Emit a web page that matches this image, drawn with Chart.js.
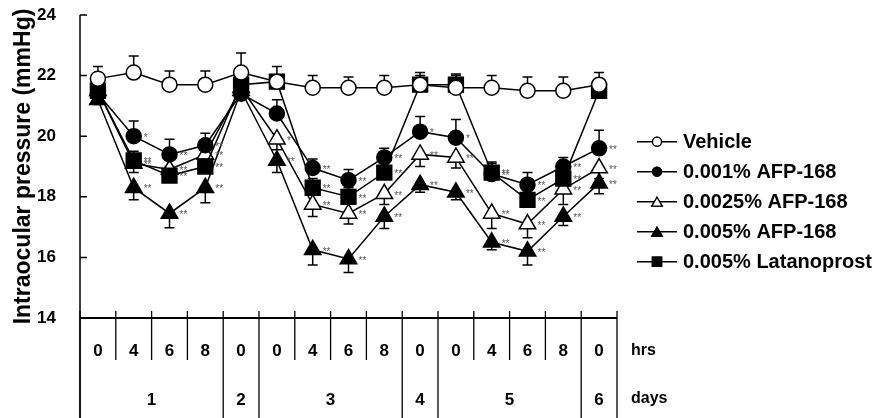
<!DOCTYPE html>
<html>
<head>
<meta charset="utf-8">
<script src="https://cdn.jsdelivr.net/npm/chart.js@4.4.1/dist/chart.umd.min.js"></script>
<style>
  html, body { margin: 0; padding: 0; background: #fff; }
  canvas { display: block; }
</style>
</head>
<body>
<canvas id="iop" width="880" height="418"></canvas>
<script>
// Sampling times (hours after dosing) and the study day each one belongs to
const hours = ['0', '4', '6', '8', '0', '0', '4', '6', '8', '0', '0', '4', '6', '8', '0'];
const studyDay = [1, 1, 1, 1, 2, 3, 3, 3, 3, 4, 5, 5, 5, 5, 6];
const yTicks = [14, 16, 18, 20, 22, 24];

// Mean IOP (mmHg), SEM and significance marks per treatment group
const vehicle = [21.9, 22.1, 21.7, 21.7, 22.1, 21.8, 21.6, 21.6, 21.6, 21.7, 21.6, 21.6, 21.5, 21.5, 21.7];
const vehicleErr = [0.4, 0.55, 0.45, 0.45, 0.65, 0.5, 0.4, 0.35, 0.4, 0.4, 0.45, 0.4, 0.45, 0.45, 0.4];
const vehicleSig = ['', '', '', '', '', '', '', '', '', '', '', '', '', '', ''];

const afp001 = [21.4, 20.0, 19.4, 19.7, 21.4, 20.75, 18.95, 18.55, 19.3, 20.15, 19.95, 18.75, 18.4, 19.0, 19.6];
const afp001Err = [0.3, 0.5, 0.5, 0.4, 0.3, 0.45, 0.3, 0.35, 0.3, 0.5, 0.6, 0.35, 0.4, 0.3, 0.6];
const afp001Sig = ['', '*', '**', '**', '', '', '**', '**', '**', '*', '*', '**', '**', '**', '**'];

const afp0025 = [21.5, 19.1, 18.9, 19.4, 21.6, 19.9, 17.75, 17.45, 18.1, 19.4, 19.3, 17.45, 17.1, 18.25, 18.95];
const afp0025Err = [0.2, 0.3, 0.3, 0.3, 0.2, 0.35, 0.4, 0.35, 0.35, 0.4, 0.35, 0.5, 0.45, 0.5, 0.35];
const afp0025Sig = ['', '**', '**', '**', '', '*', '**', '**', '**', '**', '**', '**', '**', '**', '**'];

const afp005 = [21.2, 18.3, 17.45, 18.3, 21.5, 19.2, 16.25, 15.95, 17.35, 18.4, 18.15, 16.5, 16.2, 17.35, 18.45];
const afp005Err = [0.15, 0.4, 0.47, 0.5, 0.2, 0.4, 0.5, 0.45, 0.4, 0.25, 0.25, 0.25, 0.45, 0.3, 0.35];
const afp005Sig = ['', '**', '**', '**', '', '**', '**', '**', '**', '**', '**', '**', '**', '**', '**'];

const latano = [21.5, 19.2, 18.7, 19.0, 21.7, 21.8, 18.3, 18.0, 18.8, 21.7, 21.7, 18.8, 17.9, 18.6, 21.5];
const latanoErr = [0.2, 0.3, 0.3, 0.3, 0.2, 0.2, 0.3, 0.3, 0.3, 0.3, 0.3, 0.35, 0.3, 0.35, 0.3];
const latanoSig = ['', '**', '**', '**', '', '', '**', '**', '**', '', '', '**', '**', '**', ''];

const FONT = "'Liberation Sans', Arial, Helvetica, sans-serif";

function series(label, data, err, dir, sig, style, radius, fill, order) {
  return {
    label, data, err, errDir: dir, sig, order,
    borderColor: '#000', borderWidth: 1.5,
    pointStyle: style, pointRadius: radius,
    pointBackgroundColor: fill, pointBorderColor: '#000', pointBorderWidth: 1.5,
    tension: 0, fill: false
  };
}

const datasets = [
  series('Vehicle', vehicle, vehicleErr, 1, vehicleSig, 'circle', 7.5, '#fff', 0),
  series('0.001% AFP-168', afp001, afp001Err, 1, afp001Sig, 'circle', 7.5, '#000', 1),
  series('0.0025% AFP-168', afp0025, afp0025Err, -1, afp0025Sig, 'triangle', 9.5, '#fff', 3),
  series('0.005% AFP-168', afp005, afp005Err, -1, afp005Sig, 'triangle', 9.5, '#000', 4),
  series('0.005% Latanoprost', latano, latanoErr, 1, latanoSig, 'rect', 10.5, '#000', 2)
];

const legendRadius = { circle: 4.5, triangle: 6, rect: 6.5 };

// SEM whiskers with caps, drawn underneath the markers
const errorBars = {
  id: 'errorBars',
  beforeDatasetsDraw(chart) {
    const { ctx, scales: { x, y } } = chart;
    ctx.save();
    ctx.strokeStyle = '#000';
    ctx.lineWidth = 1.5;
    chart.data.datasets.forEach(ds => {
      ds.data.forEach((v, i) => {
        const px = x.getPixelForValue(i);
        const y0 = y.getPixelForValue(v);
        const y1 = y.getPixelForValue(v + ds.errDir * ds.err[i]);
        ctx.beginPath();
        ctx.moveTo(px, y0);
        ctx.lineTo(px, y1);
        ctx.moveTo(px - 5, y1);
        ctx.lineTo(px + 5, y1);
        ctx.stroke();
      });
    });
    ctx.restore();
  }
};

// Significance asterisks to the right of each marker
const sigMarks = {
  id: 'sigMarks',
  afterDatasetsDraw(chart) {
    const { ctx, scales: { x, y } } = chart;
    ctx.save();
    ctx.fillStyle = '#555';
    ctx.font = "10px " + FONT;
    ctx.textAlign = 'left';
    ctx.textBaseline = 'middle';
    chart.data.datasets.forEach(ds => {
      ds.sig.forEach((s, i) => {
        if (!s) return;
        ctx.fillText(s, x.getPixelForValue(i) + 10, y.getPixelForValue(ds.data[i]) + 2);
      });
    });
    ctx.restore();
  }
};

// Axes frame, inward ticks, the hour/day table under the x axis and the legend
const frame = {
  id: 'frame',
  afterDraw(chart) {
    const { ctx, chartArea: a, scales: { x, y } } = chart;
    const H = chart.height;
    ctx.save();
    ctx.strokeStyle = '#000';
    ctx.fillStyle = '#000';

    // y axis line and inward ticks
    ctx.lineWidth = 1.5;
    ctx.beginPath();
    ctx.moveTo(a.left, y.getPixelForValue(24));
    ctx.lineTo(a.left, H);
    yTicks.forEach(v => {
      const py = y.getPixelForValue(v);
      ctx.moveTo(a.left, py);
      ctx.lineTo(a.left + 7, py);
    });
    ctx.stroke();

    // x axis line
    ctx.lineWidth = 2.2;
    ctx.beginPath();
    ctx.moveTo(a.left, a.bottom);
    ctx.lineTo(a.right, a.bottom);
    ctx.stroke();

    // category dividers
    const n = hours.length;
    const bounds = [];
    for (let k = 0; k <= n; k++) {
      let px;
      if (k === 0) px = a.left;
      else if (k === n) px = a.right;
      else px = (x.getPixelForValue(k - 1) + x.getPixelForValue(k)) / 2;
      bounds.push(px);
    }
    ctx.lineWidth = 1.3;
    ctx.beginPath();
    bounds.forEach((px, k) => {
      const dayEdge = k === 0 || k === n || studyDay[k] !== studyDay[k - 1];
      ctx.moveTo(px, a.bottom - 7);
      ctx.lineTo(px, dayEdge ? H : a.bottom + 42);
    });
    ctx.stroke();

    // day numbers centred in their spans
    ctx.font = "bold 17px " + FONT;
    ctx.textAlign = 'center';
    ctx.textBaseline = 'middle';
    let start = 0;
    for (let k = 1; k <= n; k++) {
      if (k === n || studyDay[k] !== studyDay[start]) {
        ctx.fillText(String(studyDay[start]), (bounds[start] + bounds[k]) / 2, 400);
        start = k;
      }
    }

    // row captions
    ctx.textAlign = 'left';
    ctx.font = "bold 16px " + FONT;
    ctx.fillText('hrs', a.right + 14, 351);
    ctx.fillText('days', a.right + 14, 399);

    // legend
    const lx = 637, ly0 = 141.7, step = 30;
    chart.data.datasets.forEach((ds, i) => {
      const ly = ly0 + i * step;
      ctx.lineWidth = 1.5;
      ctx.strokeStyle = '#000';
      ctx.beginPath();
      ctx.moveTo(lx, ly);
      ctx.lineTo(lx + 40, ly);
      ctx.stroke();
      ctx.fillStyle = ds.pointBackgroundColor;
      ctx.lineWidth = 1.3;
      Chart.helpers.drawPoint(ctx, {
        pointStyle: ds.pointStyle, rotation: 0, borderWidth: 1.3,
        radius: legendRadius[ds.pointStyle]
      }, lx + 20, ly + (ds.pointStyle === 'triangle' ? 1.5 : 0));
      ctx.fill();
      ctx.stroke();
      ctx.fillStyle = '#000';
      ctx.font = "bold 20px " + FONT;
      ctx.textBaseline = 'middle';
      ctx.fillText(ds.label, lx + 46, ly + 1);
    });
    ctx.restore();
  }
};

new Chart(document.getElementById('iop'), {
  type: 'line',
  data: { labels: hours, datasets },
  options: {
    responsive: false,
    animation: false,
    events: [],
    layout: { padding: { left: 0, right: 263, top: 15, bottom: 0 } },
    plugins: { legend: { display: false }, tooltip: { enabled: false } },
    scales: {
      x: {
        type: 'category',
        offset: true,
        grid: { display: false, drawTicks: false },
        border: { display: false },
        ticks: {
          color: '#000',
          font: { family: FONT, size: 17, weight: 'bold' },
          padding: 23,
          maxRotation: 0,
          autoSkip: false
        },
        afterFit(scale) { scale.height = 100; scale.paddingLeft = 0; scale.paddingRight = 0; }
      },
      y: {
        min: 14,
        max: 24,
        afterBuildTicks(scale) { scale.ticks = yTicks.map(v => ({ value: v })); },
        grid: { display: false, drawTicks: false },
        border: { display: false },
        title: {
          display: true,
          text: 'Intraocular pressure (mmHg)',
          color: '#000',
          font: { family: FONT, size: 23, weight: 'bold' },
          padding: { top: 10, bottom: 0 }
        },
        ticks: {
          color: '#000',
          font: { family: FONT, size: 17, weight: 'bold' },
          padding: 24
        },
        afterFit(scale) { scale.width = 80; scale.paddingTop = 0; scale.paddingBottom = 0; }
      }
    }
  },
  plugins: [errorBars, sigMarks, frame]
});
</script>
</body>
</html>
